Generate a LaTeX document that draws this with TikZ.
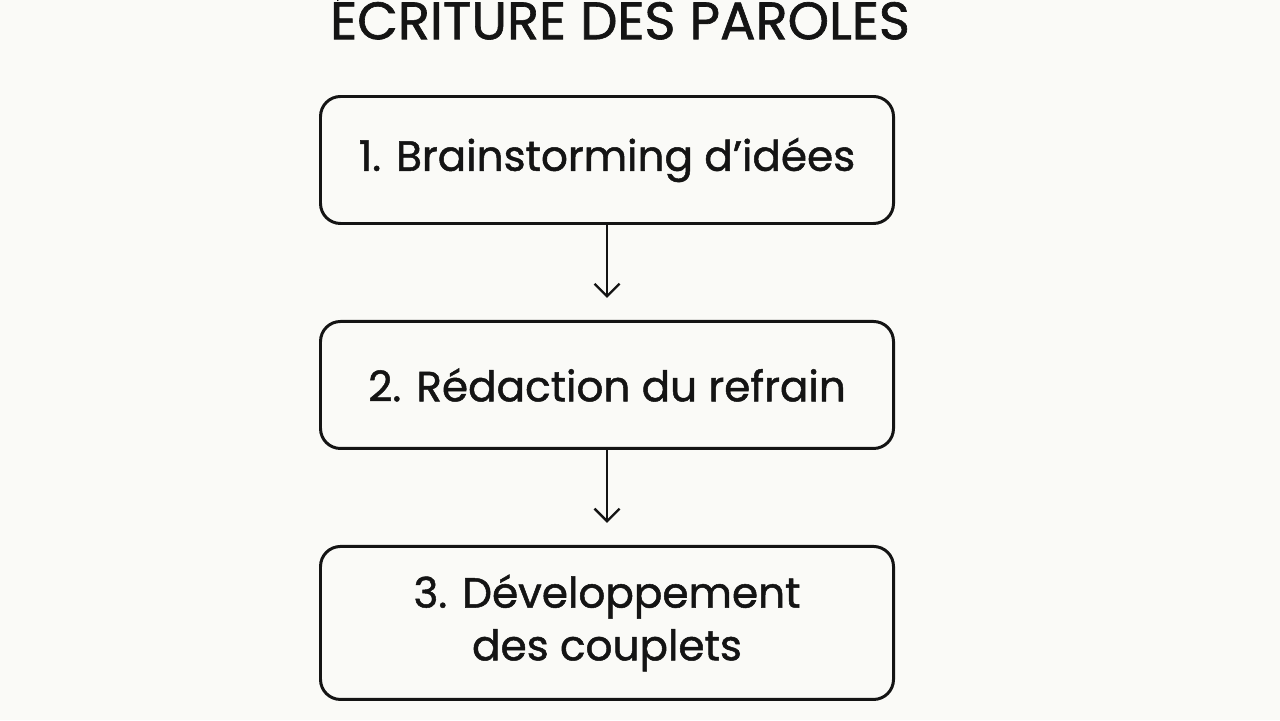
\documentclass[tikz,border=0pt]{standalone}
\usepackage{fontspec}
\setmainfont{Poppins}[FakeBold=1.2]
\usetikzlibrary{positioning,arrows.meta}
\definecolor{bgcolor}{RGB}{250,250,247}
\definecolor{inkcolor}{RGB}{20,20,20}

\begin{document}
\begin{tikzpicture}[%
    >={Straight Barb[length=2.5mm,width=5mm]}, % open arrow heads
    node distance=1.9cm,                       % gap between boxes
    ]
\tikzset{
  stage/.style={draw=inkcolor, line width=1.7pt, rounded corners=0.4cm,
    minimum width=11.46cm, minimum height=2.54cm, align=center,
    font=\fontsize{24}{30}\selectfont, text=inkcolor},
  flow/.style={->, draw=inkcolor, line width=1.4pt, shorten >=0.44cm},
}
\fill [bgcolor] (0,0) rectangle (25.6,14.4);
\useasboundingbox (0,0) rectangle (25.6,14.4);

\node [font=\fontsize{30}{36}\selectfont, text=inkcolor] (title) at (12.4,14.1) {ÉCRITURE DES PAROLES};

\node [stage] (s1) at (12.14,11.2) {1. Brainstorming d’idées};
\node [stage, below=of s1] (s2) {2. Rédaction du refrain};
\node [stage, below=of s2, minimum height=3.06cm] (s3) {3. Développement\\des couplets};

%connect
\draw [flow] (s1.south) -- (s2.north);
\draw [flow] (s2.south) -- (s3.north);

\end{tikzpicture}
\end{document}
